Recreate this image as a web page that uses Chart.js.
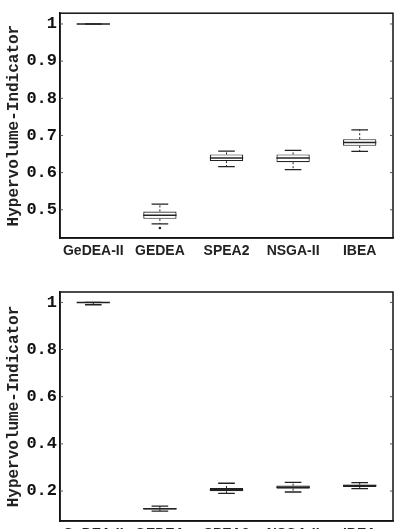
<!DOCTYPE html>
<html>
<head>
<meta charset="utf-8">
<script src="https://cdn.jsdelivr.net/npm/chart.js@4/dist/chart.umd.min.js"></script>
<style>
  html, body { margin: 0; padding: 0; background: #fff; overflow: hidden; }
  body { width: 397px; height: 529px; position: relative; }
  .wrap { position: absolute; left: 0; width: 397px; }
  #top { top: 0; height: 275px; }
  #bottom { top: 265px; height: 290px; }
</style>
</head>
<body>
<div class="wrap" id="top"><canvas id="c1"></canvas></div>
<div class="wrap" id="bottom"><canvas id="c2"></canvas></div>
<script>
// algorithms (x categories)
const algorithms = ['GeDEA-II', 'GEDEA', 'SPEA2', 'NSGA-II', 'IBEA'];

// top panel: box plot statistics per algorithm
const topLowWhisker = [1.0, 0.462, 0.616, 0.608, 0.657];
const topQ1 = [0.9995, 0.4755, 0.631, 0.628, 0.672];
const topMedian = [1.0, 0.485, 0.639, 0.639, 0.681];
const topQ3 = [1.0, 0.4955, 0.649, 0.649, 0.690];
const topHighWhisker = [1.0, 0.515, 0.658, 0.660, 0.715];
const topOutliers = [[], [0.451], [], [], []];
const topTicks = [0.5, 0.6, 0.7, 0.8, 0.9, 1];

// bottom panel
const botLowWhisker = [0.99, 0.115, 0.190, 0.196, 0.210];
const botQ1 = [0.9995, 0.122, 0.199, 0.210, 0.217];
const botMedian = [1.0, 0.125, 0.206, 0.216, 0.223];
const botQ3 = [1.0, 0.128, 0.213, 0.223, 0.227];
const botHighWhisker = [1.0, 0.136, 0.233, 0.237, 0.236];
const botOutliers = [[], [], [], [], []];
const botTicks = [0.2, 0.4, 0.6, 0.8, 1];

const ink = '#222';

// draws medians, whiskers, caps, outliers, frame and inner ticks
const boxPlugin = {
  id: 'boxExtras',
  afterDatasetsDraw(chart, args, opts) {
    const ctx = chart.ctx;
    const y = chart.scales.y;
    const area = chart.chartArea;
    const meta = chart.getDatasetMeta(0);
    ctx.save();
    ctx.strokeStyle = ink;
    meta.data.forEach((bar, i) => {
      const w = bar.width;
      const cx = bar.x;
      // whiskers (dashed)
      ctx.lineWidth = 1;
      ctx.setLineDash([2, 2]);
      ctx.beginPath();
      ctx.moveTo(cx, y.getPixelForValue(opts.q3[i]));
      ctx.lineTo(cx, y.getPixelForValue(opts.hi[i]));
      ctx.moveTo(cx, y.getPixelForValue(opts.q1[i]));
      ctx.lineTo(cx, y.getPixelForValue(opts.lo[i]));
      ctx.stroke();
      ctx.setLineDash([]);
      // caps
      ctx.lineWidth = 1.3;
      ctx.beginPath();
      [opts.hi[i], opts.lo[i]].forEach(v => {
        const py = y.getPixelForValue(v);
        ctx.moveTo(cx - w / 4, py);
        ctx.lineTo(cx + w / 4, py);
      });
      ctx.stroke();
      // median
      ctx.lineWidth = 1.5;
      ctx.beginPath();
      const pm = y.getPixelForValue(opts.med[i]);
      ctx.moveTo(cx - w / 2, pm);
      ctx.lineTo(cx + w / 2, pm);
      ctx.stroke();
      // outliers
      ctx.fillStyle = ink;
      opts.out[i].forEach(v => {
        ctx.beginPath();
        ctx.arc(cx, y.getPixelForValue(v), 1.3, 0, Math.PI * 2);
        ctx.fill();
      });
    });
    // frame
    ctx.lineWidth = 1.5;
    ctx.strokeStyle = '#111';
    ctx.strokeRect(area.left, area.top, area.right - area.left, area.bottom - area.top);
    // inward ticks on left and right
    ctx.lineWidth = 1;
    ctx.strokeStyle = '#555';
    ctx.beginPath();
    y.ticks.forEach(t => {
      const py = y.getPixelForValue(t.value);
      ctx.moveTo(area.left, py);
      ctx.lineTo(area.left + 3, py);
      ctx.moveTo(area.right, py);
      ctx.lineTo(area.right - 3, py);
    });
    ctx.stroke();
    ctx.restore();
  }
};

function makeChart(canvasId, q1, q3, med, lo, hi, out, ticks, yMin, yMax, padTop, padBottom) {
  const ctx = document.getElementById(canvasId);
  return new Chart(ctx, {
    type: 'bar',
    data: {
      labels: algorithms,
      datasets: [{
        label: 'box',
        data: q1.map((v, i) => [v, q3[i]]),
        backgroundColor: '#fff',
        borderColor: ink,
        borderWidth: 1.2,
        borderSkipped: false,
        barPercentage: 0.5,
        categoryPercentage: 1
      }]
    },
    options: {
      responsive: true,
      maintainAspectRatio: false,
      animation: false,
      layout: {
        padding: { top: padTop, right: 4, bottom: padBottom, left: 0 }
      },
      scales: {
        x: {
          offset: true,
          grid: { display: false },
          border: { display: true, color: '#111', width: 1.5 },
          ticks: {
            color: '#222',
            padding: -3,
            maxRotation: 0,
            autoSkip: false,
            font: { family: '"Liberation Sans", Arial, sans-serif', size: 14, weight: 'bold' }
          },
          afterFit: (scale) => { scale.height = 24; }
        },
        y: {
          min: yMin,
          max: yMax,
          grid: { display: false, drawTicks: false },
          border: { display: true, color: '#111', width: 1.5 },
          afterBuildTicks: (scale) => { scale.ticks = ticks.map(v => ({ value: v })); },
          ticks: {
            color: '#111',
            padding: 3,
            font: { family: '"Liberation Mono", "Courier New", monospace', size: 17, weight: 'bold' },
            callback: (v) => v === 1 ? '1' : Number(v).toFixed(1)
          },
          title: {
            display: true,
            text: 'Hypervolume-Indicator',
            color: '#222',
            padding: { top: 4, bottom: 0 },
            font: { family: '"Liberation Mono", "Courier New", monospace', size: 16, weight: 'bold' }
          },
          afterFit: (scale) => { scale.width = 60; }
        }
      },
      plugins: {
        legend: { display: false },
        tooltip: { enabled: false },
        boxExtras: { q1: q1, q3: q3, med: med, lo: lo, hi: hi, out: out }
      }
    },
    plugins: [boxPlugin]
  });
}

makeChart('c1', topQ1, topQ3, topMedian, topLowWhisker, topHighWhisker, topOutliers, topTicks, 0.424, 1.029, 8, 13);
makeChart('c2', botQ1, botQ3, botMedian, botLowWhisker, botHighWhisker, botOutliers, botTicks, 0.073, 1.044, 27, 10);
</script>
</body>
</html>
